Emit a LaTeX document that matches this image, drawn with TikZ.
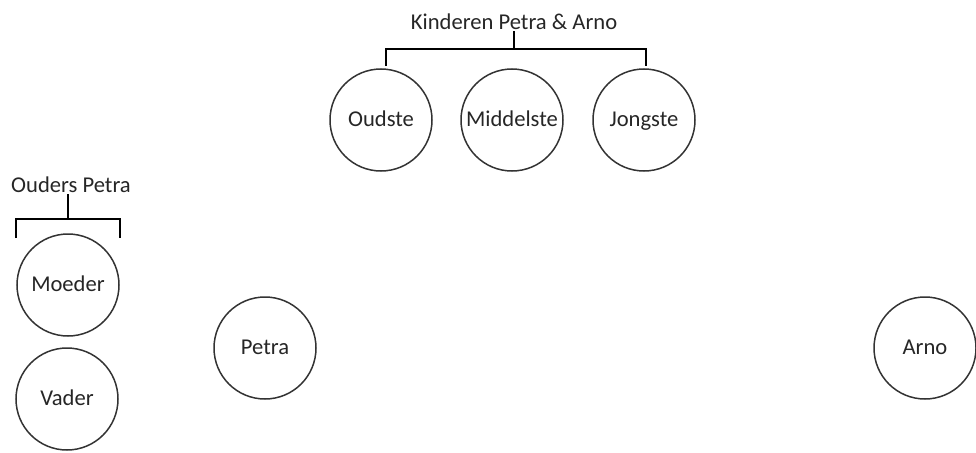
\documentclass[tikz,border=0pt]{standalone}
\usepackage{fontspec}
\setmainfont{Carlito}
\begin{document}
\begin{tikzpicture}[x=1pt,y=-1pt,
  person/.style={circle,draw=black!80,line width=1.5pt,minimum size=102pt,inner sep=0pt,
    text=black!85,font=\fontsize{22.6}{27}\selectfont,text height=13pt,text depth=0pt},
  grp/.style={text=black!85,font=\fontsize{22.6}{27}\selectfont,inner sep=1pt},
  brk/.style={draw=black,line width=2pt}]
\useasboundingbox (0,0) rectangle (976,452);
% top group
\node[grp] (kt) at (514,22) {Kinderen Petra \& Arno};
\node[person] (oud) at (381,120) {Oudste};
\node[person] (mid) at (512,120) {Middelste};
\node[person] (jon) at (644,120) {Jongste};
\coordinate (kh) at (514,49);
\coordinate (kl) at (386,49);
\coordinate (kr) at (646,49);
\coordinate (kle) at (386,66);
\coordinate (kre) at (646,66);
\draw[brk] (kt.south -| kh) -- (kh);
\draw[brk] (kle) -- (kl) -- (kr) -- (kre);
% left group
\node[grp] (ot) at (71,185) {Ouders Petra};
\node[person] (moe) at (68,285) {Moeder};
\node[person] (vad) at (67,399) {Vader};
\coordinate (oh) at (68,219);
\coordinate (ol) at (16,219);
\coordinate (or) at (120,219);
\coordinate (ole) at (16,238);
\coordinate (ore) at (120,238);
\draw[brk] (ot.south -| oh) -- (oh);
\draw[brk] (ole) -- (ol) -- (or) -- (ore);
% others
\node[person] (pet) at (265,348) {Petra};
\node[person] (arn) at (925,348) {Arno};
\end{tikzpicture}
\end{document}
